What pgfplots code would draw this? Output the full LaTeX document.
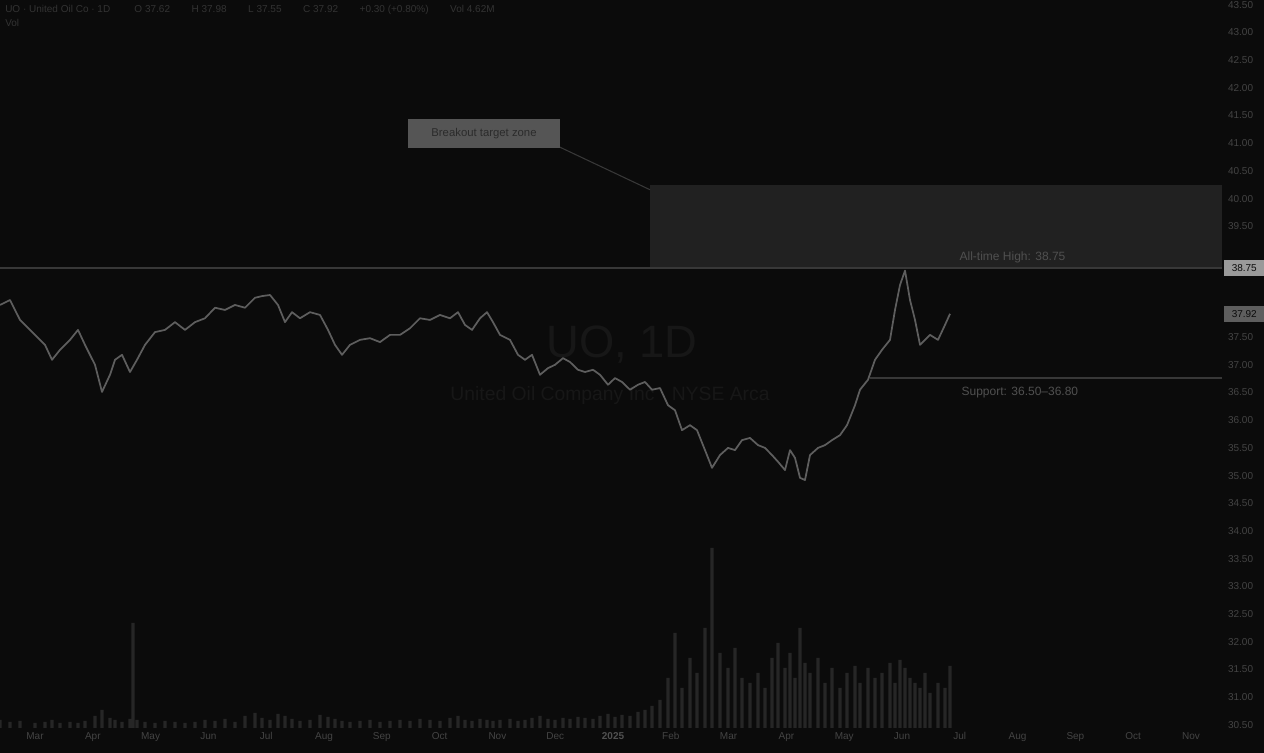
\documentclass[border=0pt]{standalone}
\usepackage{pgfplots}
\usepackage{pgfplotstable}
\pgfplotsset{compat=1.18}
\usepackage{fontspec}
\setmainfont{Liberation Sans}
\definecolor{bg}{HTML}{0B0B0B}
\definecolor{pline}{HTML}{5E5E5E}
\definecolor{lvl}{HTML}{383838}
\definecolor{zone}{HTML}{212121}
\definecolor{vol}{HTML}{262626}
\definecolor{tick}{HTML}{444444}
\definecolor{wm}{HTML}{171717}
\definecolor{lbl}{HTML}{505050}
\definecolor{boxc}{HTML}{555555}
\definecolor{boxt}{HTML}{2B2B2B}
\definecolor{tagA}{HTML}{9A9A9A}
\definecolor{hdr}{HTML}{333333}

\pgfplotstableread{
x p
0 38.08
10 38.17
20 37.81
35 37.54
45 37.36
52 37.09
60 37.27
70 37.45
78 37.63
85 37.36
95 37.00
102 36.51
110 36.82
115 37.09
122 37.18
130 36.87
137 37.09
145 37.36
155 37.59
165 37.63
175 37.77
185 37.63
195 37.77
205 37.84
215 38.03
225 37.99
235 38.08
245 38.03
255 38.21
262 38.24
270 38.26
278 38.08
285 37.77
292 37.95
300 37.84
310 37.95
320 37.90
328 37.63
335 37.36
342 37.18
350 37.36
360 37.45
370 37.48
380 37.41
390 37.54
400 37.54
410 37.66
420 37.84
430 37.81
440 37.90
450 37.84
458 37.95
465 37.72
472 37.63
480 37.84
487 37.95
493 37.77
500 37.54
510 37.45
518 37.18
525 37.09
532 37.18
540 36.82
548 36.94
555 37.00
563 37.12
570 37.05
578 36.91
585 36.87
593 36.91
600 36.82
608 36.64
615 36.76
622 36.69
630 36.55
638 36.64
645 36.69
652 36.55
660 36.58
668 36.27
675 36.18
682 35.82
690 35.91
697 35.82
705 35.46
712 35.14
720 35.37
728 35.50
735 35.46
742 35.64
750 35.68
758 35.55
765 35.50
772 35.37
778 35.25
785 35.10
790 35.46
795 35.32
800 34.96
805 34.92
810 35.37
818 35.50
825 35.55
832 35.64
840 35.73
847 35.91
855 36.27
860 36.55
868 36.73
875 37.09
882 37.27
890 37.45
895 37.99
900 38.44
905 38.70
910 38.17
915 37.81
920 37.36
925 37.45
930 37.54
938 37.45
945 37.72
950 37.92
}\price

\pgfplotstableread{
x v
0 8
10 6
20 7
35 5
45 6
52 8
60 5
70 6
78 5
85 7
95 12
102 18
110 10
115 8
122 6
130 9
133 105
137 8
145 6
155 5
165 7
175 6
185 5
195 6
205 8
215 7
225 9
235 6
245 12
255 15
262 10
270 8
278 14
285 12
292 9
300 7
310 8
320 13
328 11
335 9
342 7
350 6
360 7
370 8
380 6
390 7
400 8
410 7
420 9
430 8
440 7
450 10
458 12
465 8
472 7
480 9
487 8
493 7
500 8
510 9
518 7
525 8
532 10
540 12
548 9
555 8
563 10
570 9
578 11
585 10
593 9
600 12
608 14
615 11
622 13
630 12
638 16
645 18
652 22
660 28
668 50
675 95
682 40
690 70
697 55
705 100
712 180
720 75
728 60
735 80
742 50
750 45
758 55
765 40
772 70
778 85
785 60
790 75
795 50
800 100
805 65
810 55
818 70
825 45
832 60
840 40
847 55
855 62
860 45
868 60
875 50
882 55
890 65
895 45
900 68
905 60
910 50
915 45
920 40
925 55
930 35
938 45
945 40
950 62
}\volume

\begin{document}
\begin{tikzpicture}
\fill[bg] (0pt,0pt) rectangle (948pt,564.75pt);
\useasboundingbox (0pt,0pt) rectangle (948pt,564.75pt);

% volume pane
\begin{axis}[at={(0pt,18.75pt)}, anchor=south west, scale only axis,
  width=916.5pt, height=150pt, xmin=0, xmax=1222, ymin=0, ymax=200,
  axis lines=none, clip=false]
\addplot[ybar, bar width=2.4pt, fill=vol, draw=none] table[x=x,y=v]{\volume};
\end{axis}

% price pane
\begin{axis}[at={(0pt,18.75pt)}, anchor=south west, scale only axis,
  width=916.5pt, height=546pt,
  xmin=0, xmax=1222, ymin=30.444, ymax=43.585,
  axis line style={draw=none},
  clip=false,
  ytick={30.5,31,...,37.5,39.5,40,...,43.5},
  yticklabel pos=right,
  major tick length=0pt,
  ytick style={draw=none}, xtick style={draw=none},
  /pgf/number format/assume math mode=true,
  yticklabel style={font=\fontsize{7.5}{8}\selectfont, text=tick, anchor=west, xshift=1pt,
    /pgf/number format/.cd, fixed, fixed zerofill, precision=2},
  xtick={35,92.8,150.6,208.4,266.2,324,381.8,439.6,497.4,555.2,613,670.8,728.6,786.4,844.2,902,959.8,1017.6,1075.4,1133.2,1191},
  xticklabels={Mar,Apr,May,Jun,Jul,Aug,Sep,Oct,Nov,Dec,{\textcolor{lbl}{\bfseries 2025}},Feb,Mar,Apr,May,Jun,Jul,Aug,Sep,Oct,Nov},
  xticklabel style={font=\fontsize{7.5}{8}\selectfont, text=tick},
]
% watermark
\node[text=wm, font=\fontsize{34}{36}\selectfont] at (axis cs:622,37.36) {UO, 1D};
\node[text=wm, font=\fontsize{14.5}{16}\selectfont] at (axis cs:610,36.45) {United Oil Company Inc · NYSE Arca};
% zone and levels
\fill[zone] (axis cs:650,38.75) rectangle (axis cs:1222,40.25);
\draw[lvl, line width=1pt] (axis cs:0,38.75) -- (axis cs:1222,38.75);
\draw[lvl, line width=1pt] (axis cs:870,36.76) -- (axis cs:1222,36.76);
\draw[lvl, line width=0.8pt] (axis cs:555,40.97) -- (axis cs:650,40.16);
\node[fill=boxc, minimum width=114pt, minimum height=22pt, text=boxt, font=\fontsize{8.5}{9}\selectfont, inner sep=0pt] at (axis cs:484,41.18) {Breakout target zone};
\node[anchor=south west, text=lbl, font=\fontsize{9}{10}\selectfont, inner sep=1pt] at (axis cs:958,38.80) {All-time High: 38.75};
\node[anchor=north west, text=lbl, font=\fontsize{9}{10}\selectfont, inner sep=1pt] at (axis cs:960,36.62) {Support: 36.50--36.80};
% price
\addplot[pline, line width=1.3pt, line join=round] table[x=x,y=p]{\price};
% price scale tags
\node[anchor=west, fill=tagA, text=bg, minimum width=30pt, minimum height=12pt, inner sep=1pt, font=\fontsize{7.5}{8}\selectfont] at (axis cs:1224,38.75) {38.75};
\node[anchor=west, fill=pline, text=bg, minimum width=30pt, minimum height=12pt, inner sep=1pt, font=\fontsize{7.5}{8}\selectfont] at (axis cs:1224,37.92) {37.92};
\end{axis}

% header
\node[anchor=west, text=hdr, font=\fontsize{7.5}{8}\selectfont, inner sep=0pt] at (3.75pt,557pt) {UO · United Oil Co · 1D \hspace{14pt} O 37.62 \hspace{12pt} H 37.98 \hspace{12pt} L 37.55 \hspace{12pt} C 37.92 \hspace{12pt} +0.30 (+0.80\%) \hspace{12pt} Vol 4.62M};
\node[anchor=west, text=hdr, font=\fontsize{7.5}{8}\selectfont, inner sep=0pt] at (3.75pt,547.5pt) {Vol};
\end{tikzpicture}
\end{document}
